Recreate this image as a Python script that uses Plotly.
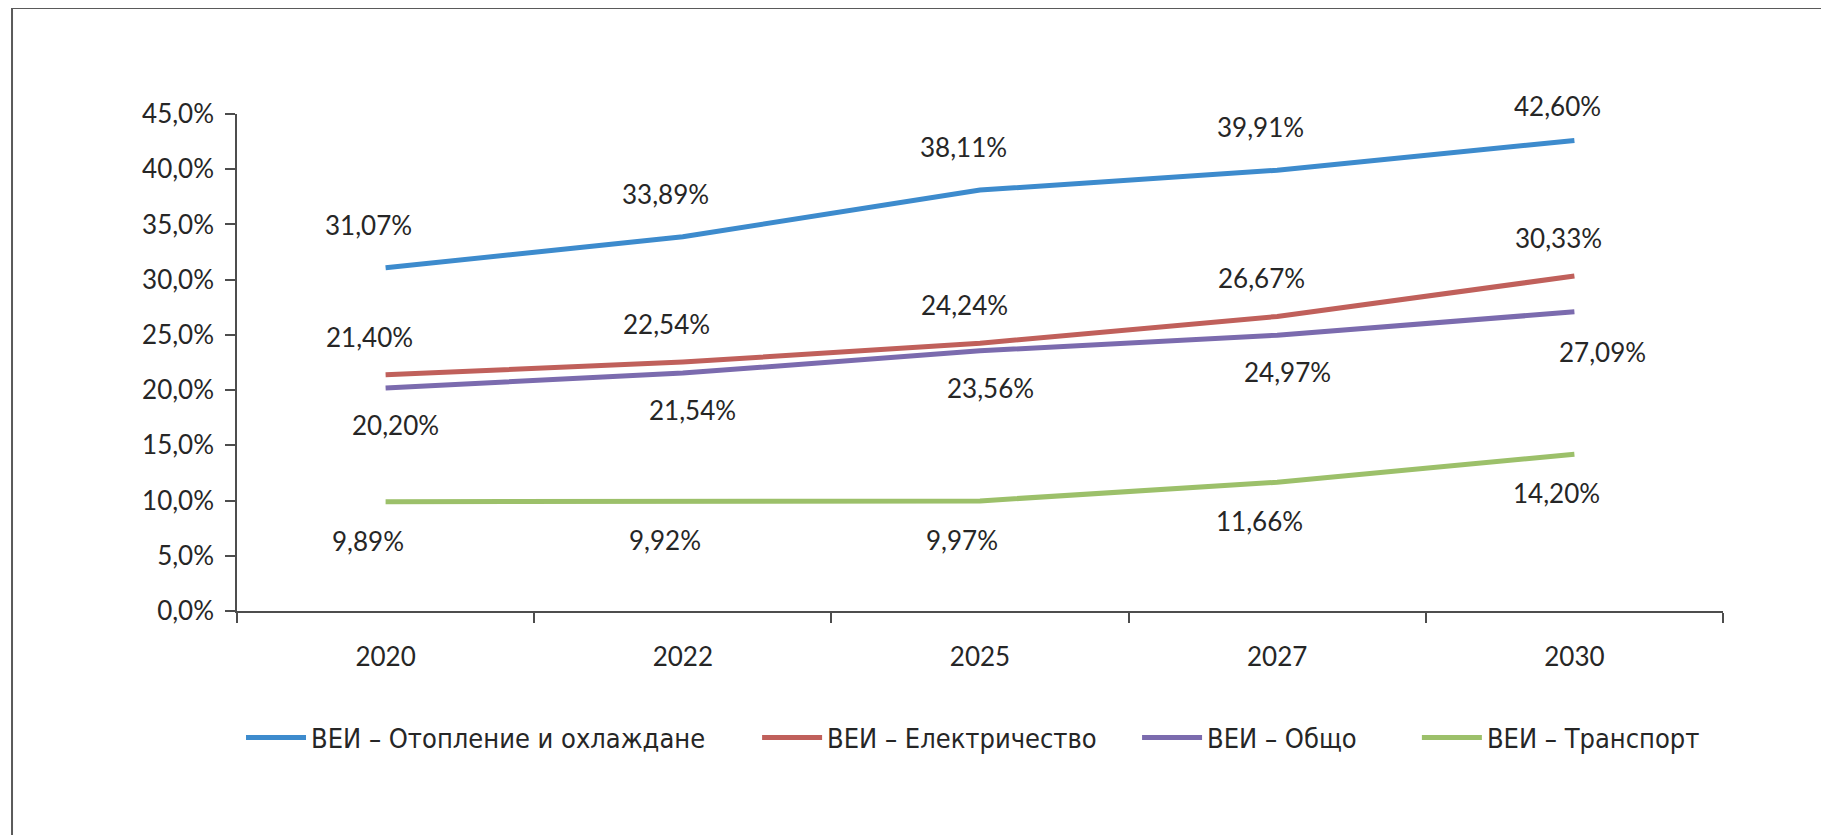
import plotly.graph_objects as go

# ---- data ----
years = ["2020", "2022", "2025", "2027", "2030"]
series_names = [
    "ВЕИ – Отопление и охлаждане",
    "ВЕИ – Електричество",
    "ВЕИ – Общо",
    "ВЕИ – Транспорт",
]
heating_cooling = [31.07, 33.89, 38.11, 39.91, 42.60]
electricity = [21.40, 22.54, 24.24, 26.67, 30.33]
total = [20.20, 21.54, 23.56, 24.97, 27.09]
transport = [9.89, 9.92, 9.97, 11.66, 14.20]
y_ticks = [0, 5, 10, 15, 20, 25, 30, 35, 40, 45]
y_tick_labels = [f"{v:.1f}".replace(".", ",") + "%" for v in y_ticks]

# ---- styles ----
colors = ["#3D8BCD", "#C0605B", "#7B6BAE", "#9CC06A"]
label_shift = [  # (xshift, yshift) per series, pixels
    [(-17, 43), (-17, 43), (-17, 43), (-17, 43), (-17, 35)],
    [(-16, 38), (-16, 38), (-16, 38), (-16, 38), (-16, 38)],
    [(10, -37), (10, -37), (10, -37), (10, -37), (28, -40)],
    [(-18, -39), (-18, -39), (-18, -39), (-18, -39), (-18, -39)],
]
legend_x = [0.0027, 0.350, 0.6057, 0.794]
label_font = dict(family="Lato, Carlito, sans-serif", size=26, color="#262626")
legend_font = dict(family="Liberation Sans Narrow, DejaVu Sans Condensed, sans-serif",
                   size=27, color="#262626")

all_series = [heating_cooling, electricity, total, transport]

fig = go.Figure()
annotations = []
legend_layouts = {}
for k, (name, vals, col, shifts) in enumerate(zip(series_names, all_series, colors, label_shift)):
    lname = "legend" if k == 0 else f"legend{k + 1}"
    fig.add_trace(go.Scatter(
        x=years, y=vals, name=name, mode="lines",
        line=dict(color=col, width=5), legend=lname,
    ))
    legend_layouts[lname] = dict(
        orientation="h", x=legend_x[k], y=-0.2555, xanchor="left", yanchor="middle",
        font=legend_font, itemwidth=60, bgcolor="rgba(0,0,0,0)",
    )
    for i, (yv, (dx, dy)) in enumerate(zip(vals, shifts)):
        annotations.append(dict(
            x=i, y=yv, xref="x", yref="y",
            text=f"{yv:.2f}".replace(".", ",") + "%",
            showarrow=False, xshift=dx, yshift=dy,
            font=label_font,
        ))

fig.update_layout(
    width=1821, height=827,
    margin=dict(l=229, r=106, t=106, b=224),
    paper_bgcolor="white", plot_bgcolor="white",
    showlegend=True,
    annotations=annotations,
    shapes=[dict(
        type="rect", xref="paper", yref="paper",
        x0=-0.1514, x1=1.0673, y0=-0.47, y1=1.2133,
        line=dict(color="#5a5a5a", width=2), fillcolor="rgba(0,0,0,0)",
        layer="below",
    )],
    **legend_layouts,
)

fig.update_xaxes(
    type="category", range=[-0.5, 4.5],
    showline=True, linecolor="#4d4d4d", linewidth=1.5,
    ticks="outside", tickson="boundaries", ticklen=10, tickcolor="#4d4d4d",
    tickwidth=1.5, showgrid=False, zeroline=False,
    tickfont=label_font, ticklabelstandoff=22,
)
fig.update_yaxes(
    range=[0, 45], tickmode="array", tickvals=y_ticks, ticktext=y_tick_labels,
    showline=True, linecolor="#4d4d4d", linewidth=1.5,
    ticks="outside", ticklen=10, tickcolor="#4d4d4d", tickwidth=1.5,
    showgrid=False, zeroline=False, tickfont=label_font, ticklabelstandoff=6,
)

fig.write_html("out.html")
